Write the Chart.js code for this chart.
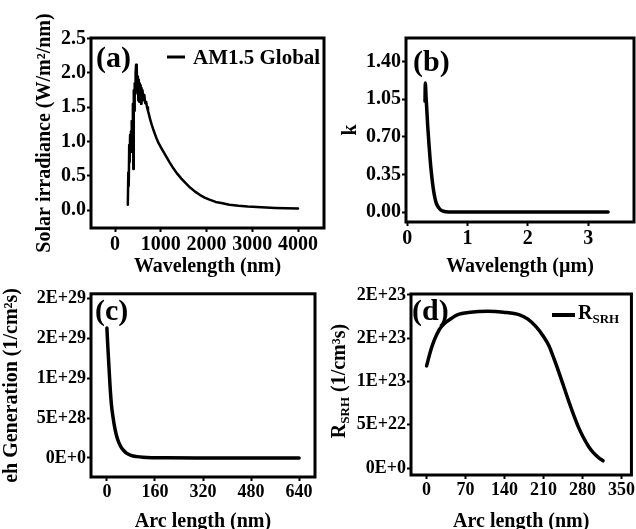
<!DOCTYPE html>
<html><head><meta charset="utf-8">
<script src="https://cdn.jsdelivr.net/npm/chart.js@4/dist/chart.umd.min.js"></script>
<style>
html,body{margin:0;padding:0;background:#fff;overflow:hidden;width:636px;height:529px;}
canvas{position:absolute;}
</style></head><body>
<canvas id="ca" width="330" height="282" style="left:0;top:0"></canvas>
<canvas id="cb" width="306" height="282" style="left:330px;top:0"></canvas>
<canvas id="cc" width="330" height="260" style="left:0;top:282px"></canvas>
<canvas id="cd" width="306" height="260" style="left:330px;top:282px"></canvas>
<script>
const FONT = '"Liberation Serif", "Times New Roman", serif';

// (a) AM1.5 Global spectrum
const aWavelength = [280,290,300,310,320,330,340,350,360,370,380,390,400,410,420,430,440,450,460,470,480,490,500,510,520,530,540,550,560,570,580,590,600,620,640,660,680,700,720,740,765,800,850,900,950,1000,1060,1130,1200,1275,1350,1450,1550,1640,1750,1860,1970,2080,2200,2350,2500,2700,2900,3100,3300,3500,3750,4000];
const aIrradiance = [0.08,0.55,0.35,0.95,0.7,1.1,0.95,1.15,0.85,1.3,1.1,1.55,0.6,1.75,1.45,1.85,1.7,2.0,2.12,1.85,2.05,1.75,1.95,1.6,1.9,1.58,1.85,1.68,1.82,1.55,1.78,1.6,1.75,1.62,1.68,1.56,1.58,1.5,1.45,1.4,1.33,1.25,1.15,1.06,0.98,0.92,0.85,0.77,0.69,0.61,0.54,0.46,0.39,0.33,0.27,0.22,0.18,0.15,0.12,0.1,0.08,0.065,0.053,0.045,0.038,0.033,0.028,0.024];
const aXTicks = [0,1000,2000,3000,4000];
const aYTicks = [0,0.5,1,1.5,2,2.5];

// (b) extinction coefficient k
const bWavelength = [0.295,0.300,0.305,0.31,0.32,0.33,0.34,0.35,0.36,0.38,0.40,0.42,0.44,0.46,0.48,0.50,0.53,0.56,0.60,0.70,0.90,1.2,1.6,2.0,2.5,3.0,3.33];
const bK = [1.03,1.20,1.17,1.10,1.00,0.90,0.80,0.72,0.64,0.49,0.37,0.27,0.19,0.13,0.085,0.06,0.035,0.018,0.007,0.001,0,0,0,0,0,0,0];
const bXTicks = [0,1,2,3];
const bYTicks = [0,0.35,0.7,1.05,1.4];

// (c) eh generation
const cArc = [0,3,6,10,15,20,27,35,45,54,65,80,100,120,150,200,300,400,500,640];
const cGen = [1.63e29,1.4e29,1.2e29,9.3e28,6.7e28,5.2e28,3.6e28,2.4e28,1.5e28,1.0e28,6.0e27,3.2e27,1.6e27,8e26,3e26,1e26,0,0,0,0];
const cXTicks = [0,160,320,480,640];
const cYTicks = [0,5e28,1e29,1.5e29,2e29];

// (d) R_SRH
const dArc = [0,7,14,23,32,45,55,79,110,138,167,182,197,210,220,229,238,247,256,265,273,282,291,300,309,317];
const dRsrh = [1.18e23,1.35e23,1.48e23,1.6e23,1.67e23,1.73e23,1.77e23,1.8e23,1.81e23,1.8e23,1.77e23,1.72e23,1.63e23,1.52e23,1.41e23,1.26e23,1.1e23,9.3e22,7.6e22,6.0e22,4.7e22,3.5e22,2.5e22,1.75e22,1.2e22,8.4e21];
const dXTicks = [0,70,140,210,280,350];
const dYTicks = [0,5e22,1e23,1.5e23,2e23];

function pts(xs, ys){ return xs.map((x,i)=>({x:x, y:ys[i]})); }
function expLabel(v){
  v = Number(v);
  if (v === 0) return '0E+0';
  let e = Math.floor(Math.log10(Math.abs(v)) + 1e-9);
  let m = Math.round(v / Math.pow(10, e) + 1e-9);
  if (m >= 10) { m = 1; e += 1; }
  return m + 'E+' + e;
}

function axis(cfg){
  return {
    type:'linear', min:cfg.min, max:cfg.max,
    afterBuildTicks: s => { s.ticks = cfg.ticks.map(v=>({value:v})); },
    afterFit: s => { if (cfg.width!=null) s.width = cfg.width; if (cfg.height!=null) s.height = cfg.height; },
    ticks:{color:'#000', font:{family:FONT, weight:'bold', size:cfg.tickSize}, padding:1, maxRotation:0, minRotation:0, autoSkip:false, callback: cfg.fmt},
    grid:{display:true, drawOnChartArea:false, drawTicks:true, tickLength:4, tickWidth:2, color:'#000'},
    border:{display:false},
    title:{display: !!cfg.title, text: cfg.title || '', color:'#000', font:{family:FONT, weight:'bold', size:20}, padding:{top:cfg.tp||0, bottom:cfg.tp||0}}
  };
}

const framePlugin = {
  id:'frame',
  afterDatasetsDraw(chart){
    const ctx = chart.ctx, a = chart.chartArea;
    ctx.save(); ctx.strokeStyle='#000'; ctx.lineWidth=3;
    ctx.strokeRect(a.left, a.top, a.right-a.left, a.bottom-a.top);
    ctx.restore();
  }
};
function textPlugin(fn){ return {id:'txt', afterDraw(chart){ const ctx=chart.ctx; ctx.save(); ctx.fillStyle='#000'; ctx.strokeStyle='#000'; fn(ctx, chart); ctx.restore(); }}; }

function lineDS(xs, ys, w, smooth){
  return {data:pts(xs,ys), borderColor:'#000', borderWidth:w, pointRadius:0, fill:false,
    tension: smooth?0.4:0, cubicInterpolationMode: smooth?'monotone':'default', borderJoinStyle:'round', borderCapStyle:'round'};
}
function baseOpts(pad){
  return {responsive:false, animation:false, devicePixelRatio:1, layout:{padding:pad},
    plugins:{legend:{display:false}, tooltip:{enabled:false}}};
}

// Panel (a)
const optA = baseOpts({left:0,right:6,top:38,bottom:0});
optA.scales = {
  x: axis({min:-525,max:4568,ticks:aXTicks,tickSize:20,height:54,fmt:v=>String(v),title:'Wavelength (nm)',tp:3}),
  y: axis({min:-0.26,max:2.51,ticks:aYTicks,tickSize:20,width:91,fmt:v=>Number(v).toFixed(1),title:'Solar irradiance (W/m²/nm)',tp:33})
};
new Chart(document.getElementById('ca'), {type:'line', data:{datasets:[lineDS(aWavelength,aIrradiance,2.5,false)]}, options:optA,
  plugins:[framePlugin, textPlugin(ctx=>{
    ctx.font='bold 30px '+FONT; ctx.textBaseline='alphabetic'; ctx.fillText('(a)', 96, 67);
    ctx.lineWidth=3; ctx.beginPath(); ctx.moveTo(167,57); ctx.lineTo(185,57); ctx.stroke();
    ctx.font='bold 21px '+FONT; ctx.fillText('AM1.5 Global', 193, 64);
  })]});

// Panel (b)
const optB = baseOpts({left:0,right:2,top:38,bottom:0});
optB.scales = {
  x: axis({min:-0.02,max:3.76,ticks:bXTicks,tickSize:20,height:60,fmt:v=>String(v),title:'Wavelength (µm)',tp:3}),
  y: axis({min:-0.093,max:1.62,ticks:bYTicks,tickSize:20,width:76,fmt:v=>Number(v).toFixed(2),title:'k',tp:9})
};
new Chart(document.getElementById('cb'), {type:'line', data:{datasets:[lineDS(bWavelength,bK,3.5,true)]}, options:optB,
  plugins:[framePlugin, textPlugin(ctx=>{
    ctx.font='bold 30px '+FONT; ctx.textBaseline='alphabetic'; ctx.fillText('(b)', 83, 71);
  })]});

// Panel (c)
const optC = baseOpts({left:0,right:15,top:11,bottom:0});
optC.scales = {
  x: axis({min:-53,max:693,ticks:cXTicks,tickSize:18,height:65,fmt:v=>String(v),title:'Arc length (nm)',tp:8}),
  y: axis({min:-2.4e28,max:2.06e29,ticks:cYTicks,tickSize:18,width:91,fmt:expLabel,title:'eh Generation (1/cm²s)',tp:0})
};
new Chart(document.getElementById('cc'), {type:'line', data:{datasets:[lineDS(cArc,cGen,3.5,true)]}, options:optC,
  plugins:[framePlugin, textPlugin(ctx=>{
    ctx.font='bold 30px '+FONT; ctx.textBaseline='alphabetic'; ctx.fillText('(c)', 95, 38);
  })]});

// Panel (d)
const optD = baseOpts({left:0,right:2,top:12,bottom:0});
optD.scales = {
  x: axis({min:-28,max:368,ticks:dXTicks,tickSize:18,height:67,fmt:v=>String(v),title:'Arc length (nm)',tp:8}),
  y: axis({min:-8e21,max:2.01e23,ticks:dYTicks,tickSize:18,width:81,fmt:expLabel})
};
new Chart(document.getElementById('cd'), {type:'line', data:{datasets:[lineDS(dArc,dRsrh,3.5,true)]}, options:optD,
  plugins:[framePlugin, textPlugin(ctx=>{
    ctx.font='bold 30px '+FONT; ctx.textBaseline='alphabetic'; ctx.fillText('(d)', 82, 38);
    // legend
    ctx.lineWidth=4; ctx.beginPath(); ctx.moveTo(222,33); ctx.lineTo(245,33); ctx.stroke();
    ctx.font='bold 20px '+FONT; ctx.fillText('R', 248, 37);
    const wR = ctx.measureText('R').width;
    ctx.font='bold 13px '+FONT; ctx.fillText('SRH', 248+wR, 41);
    // rotated y title
    ctx.translate(8, 99); ctx.rotate(-Math.PI/2);
    const big='bold 20px '+FONT, small='bold 13px '+FONT;
    ctx.font=big; const w1=ctx.measureText('R').width, w3=ctx.measureText(' (1/cm³s)').width;
    ctx.font=small; const w2=ctx.measureText('SRH').width;
    let x = -(w1+w2+w3)/2;
    ctx.font=big; ctx.fillText('R', x, 7); x+=w1;
    ctx.font=small; ctx.fillText('SRH', x, 11); x+=w2;
    ctx.font=big; ctx.fillText(' (1/cm³s)', x, 7);
  })]});
</script>
</body></html>
